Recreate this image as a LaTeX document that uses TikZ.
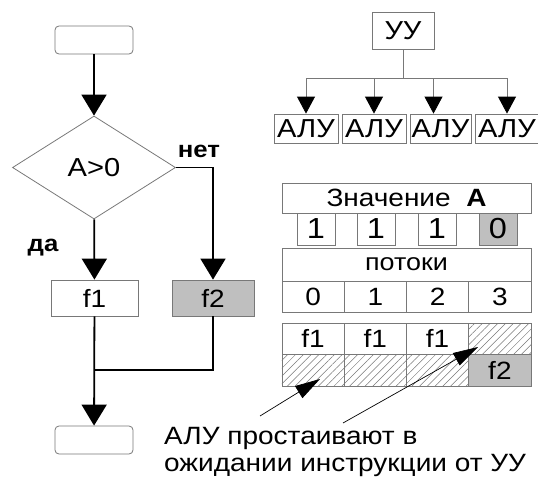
\documentclass[tikz,border=0pt]{standalone}
\usepackage{fontspec}
\setmainfont{Liberation Sans}[FakeStretch=1.12]
\usetikzlibrary{arrows.meta,shapes.geometric,patterns.meta}
\definecolor{cellgray}{RGB}{191,191,191}
\definecolor{rimgray}{RGB}{120,120,120}
\newcommand{\fs}[1]{\fontsize{#1}{#1}\selectfont}
\begin{document}
\begin{tikzpicture}[x=1pt,y=-1pt,
    box/.style={draw=rimgray,line width=0.8pt,inner sep=0pt,minimum height=#1},
    box/.default=30pt,
    term/.style={draw=rimgray,line width=0.8pt,rounded corners=4pt,minimum width=78pt,minimum height=28pt,inner sep=0pt},
    flow/.style={line width=1.8pt,-{Triangle[width=25pt,length=21pt]}},
    bus/.style={draw=rimgray,line width=0.8pt},
    busarrow/.style={bus,-{Triangle[width=18pt,length=17pt,black]}},
    idle/.style={pattern={Lines[angle=45,distance=5.5pt,line width=0.5pt]},pattern color=rimgray},
    note/.style={line width=0.7pt,-{Triangle[width=14pt,length=25pt]}}]
\useasboundingbox (0,0) rectangle (538,479);
% flowchart
\node[term] (start) at (94,40) {};
\node[draw=rimgray,line width=0.8pt,diamond,inner sep=0pt,minimum width=163pt,minimum height=103pt,font=\fs{26}] (cond) at (94,167.5) {A>0};
\node[box=36pt,minimum width=87pt,font=\fs{25}] (f1) at (94.5,298) {f1};
\node[box=36pt,minimum width=82pt,fill=cellgray,font=\fs{25}] (f2) at (213,298) {f2};
\node[term] (end) at (94,440) {};
\coordinate (join) at (94,370);
\draw[flow] (start) -- (cond);
\draw[flow] (cond) -- (f1);
\draw[flow] (cond.east) -| (f2);
\draw[flow] (f1) -- (end);
\draw[line width=1.8pt] (f2) |- (join);
\node[font=\bfseries\fs{23}] (no) at (199,151) {нет};
\node[font=\bfseries\fs{23}] (yes) at (43,248) {да};
% control unit and ALUs
\node[box=37pt,minimum width=62pt,font=\fs{26}] (uu) at (403,30.5) {УУ};
\foreach \i/\x/\w in {1/306/64,2/374/64,3/440.5/61,4/507/64}
  \node[box=29pt,minimum width=\w pt,font=\fs{26}] (alu\i) at (\x,128.5) {АЛУ};
\coordinate (bus) at (403,78);
\draw[bus] (uu) -- (bus);
\draw[busarrow] (bus) -| (alu1.north);
\draw[busarrow] (bus) -| (alu2.north);
\draw[busarrow] (bus) -| ([xshift=-7pt]alu3.north);
\draw[busarrow] (bus) -| (alu4.north);
% values of A per thread
\node[box=30pt,minimum width=249pt,font=\fs{25}] (val) at (406.5,198) {Значение\ \ \textbf{A}};
\foreach \i/\x in {0/316,1/376,2/437}
  \node[box=32pt,minimum width=38pt,font=\fs{29}] (a\i) at (\x,229) {1};
\node[box=32pt,minimum width=38pt,fill=cellgray,font=\fs{29}] (a3) at (498,229) {0};
\node[box=33pt,minimum width=249pt,font=\fs{24}] (thr) at (406.5,264.5) {потоки};
\foreach \i in {0,...,3}
  \node[box=31pt,minimum width=62.25pt,font=\fs{25}] (n\i) at (313.1+62.25*\i,296.5) {\i};
% execution per thread
\foreach \i in {0,1,2}{
  \node[box=31pt,minimum width=62.25pt,font=\fs{25}] (t\i) at (313.1+62.25*\i,338.5) {f1};
  \node[box=32pt,minimum width=62.25pt,idle] (b\i) at (313.1+62.25*\i,370) {};
}
\node[box=31pt,minimum width=62.25pt,idle] (t3) at (499.9,338.5) {};
\node[box=32pt,minimum width=62.25pt,fill=cellgray,font=\fs{25}] (b3) at (499.9,370) {f2};
% note
\node[anchor=north west,inner sep=0pt,align=left,font=\fontsize{25}{27}\selectfont] (txt) at (164,427) {АЛУ простаивают в\\ожидании инструкции от УУ};
\coordinate (from1) at (260,416);
\coordinate (from2) at (343,423);
\coordinate (tip1) at (320,379);
\coordinate (tip2) at (478,347);
\draw[note] (from1) -- (tip1);
\draw[note] (from2) -- (tip2);
\end{tikzpicture}
\end{document}
